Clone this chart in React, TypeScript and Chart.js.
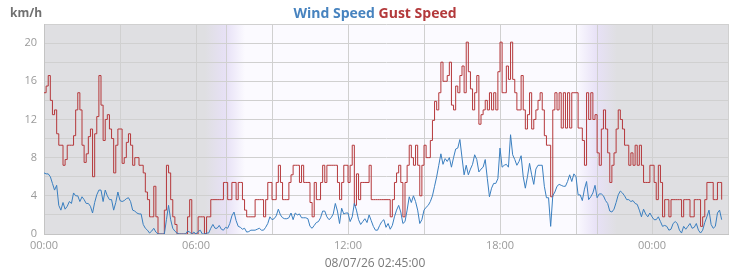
import React, { useEffect, useRef } from 'react';
import { Chart, registerables } from 'chart.js';

Chart.register(...registerables);

// ---- data (5-minute samples starting 00:00, ending 02:45 next day) ----
const intervalMinutes = 5;

const windSpeed = [
  6.4, 6.3, 6.3, 6.0, 5.3, 4.6, 5.1, 3.0, 2.5, 3.3,
  2.6, 2.9, 3.4, 3.2, 4.3, 4.0, 4.0, 3.4, 3.9, 3.6,
  3.2, 3.2, 2.9, 2.2, 3.3, 4.1, 4.6, 4.6, 3.4, 4.6,
  4.0, 3.6, 3.6, 2.5, 3.3, 4.4, 3.5, 3.4, 3.5, 3.7,
  3.8, 3.4, 2.5, 2.4, 2.2, 2.1, 2.1, 1.0, 0.6, 0.4,
  0.1, 0.3, 0.6, 0.2, 0, 0, 0, 0, 1.5, 3.0,
  1.5, 0.6, 0.3, 0.1, 0, 0, 0, 0, 0.3, 0.2,
  0, 0.2, 0, 0.25, 0.4, 0, 0, 0.1, 0.1, 0.6,
  1.0, 0.6, 0.6, 0.9, 0.5, 0.4, 0.7, 0.6, 1.1, 1.9,
  2.3, 1.4, 0.8, 0.7, 0.5, 0.6, 0.2, 0.25, 0.4, 0.4,
  0.4, 0.5, 0.6, 0.4, 0.4, 0.7, 1.1, 1.8, 1.5, 1.6,
  1.9, 2.6, 2.0, 1.7, 1.6, 1.6, 1.7, 2.2, 1.5, 2.2,
  2.0, 2.1, 1.7, 1.7, 1.7, 1.6, 0.8, 0.6, 0.9, 1.2,
  1.3, 1.7, 2.4, 2.4, 1.8, 1.5, 1.7, 2.1, 3.2, 2.4,
  1.1, 2.7, 2.1, 2.2, 2.2, 1.3, 1.8, 3.2, 2.5, 1.5,
  1.0, 1.3, 1.6, 1.2, 2.0, 1.4, 0.8, 0.4, 0.4, 0.9,
  1.3, 1.5, 0.7, 1.1, 0.5, 0.9, 1.8, 2.5, 3.0, 2.3,
  1.1, 1.3, 2.5, 3.9, 3.3, 4.0, 3.4, 2.5, 1.1, 1.5,
  2.5, 2.8, 3.0, 3.4, 4.0, 5.0, 6.0, 7.2, 8.4, 7.3,
  7.9, 7.6, 8.0, 7.0, 8.0, 8.9, 9.0, 9.9, 8.0, 6.2,
  7.2, 6.2, 6.8, 7.3, 8.3, 7.8, 6.5, 6.8, 7.0, 7.8,
  5.8, 3.9, 4.8, 5.3, 5.3, 5.8, 9.0, 7.0, 7.2, 7.3,
  7.0, 10.4, 8.3, 7.8, 7.2, 7.6, 8.2, 6.0, 4.8, 6.0,
  7.4, 6.2, 5.2, 6.8, 7.2, 7.2, 7.2, 5.0, 3.8, 3.8,
  0.8, 4.0, 4.4, 5.0, 5.2, 5.1, 5.0, 5.0, 5.5, 6.2,
  5.5, 6.3, 6.0, 4.1, 4.1, 3.5, 4.7, 5.5, 3.6, 3.9,
  4.3, 5.1, 3.8, 4.2, 4.2, 4.0, 3.5, 3.2, 2.4, 2.3,
  2.6, 3.3, 4.1, 4.5, 4.3, 4.0, 3.6, 3.6, 3.4, 3.5,
  3.2, 3.1, 2.5, 1.8, 2.6, 2.1, 1.8, 2.2, 1.8, 1.5,
  1.5, 1.8, 1.3, 0.8, 0.9, 0.8, 0.4, 0.5, 1.1, 1.3,
  1.1, 0.4, 0.1, 0.8, 0.5, 0.8, 1.1, 0.6, 0.7, 1.1,
  0.4, 0.1, 0.4, 1.2, 1.8, 2.5, 1.0, 0.6, 0.8, 2.2,
  2.5, 1.5,
];

const gustSpeed = [
  14.8, 15.5, 16.6, 14.0, 12.5, 13.0, 10.5, 9.3, 9.3, 7.2,
  7.8, 9.3, 9.3, 9.3, 10.3, 13.0, 14.8, 13.0, 9.3, 7.5,
  8.4, 10.2, 11.0, 6.0, 10.5, 12.3, 16.6, 13.5, 9.8, 12.0,
  12.5, 11.0, 10.0, 6.4, 9.3, 11.0, 11.0, 7.4, 8.0, 9.6,
  10.5, 9.3, 7.2, 8.0, 8.0, 7.2, 7.2, 6.4, 4.4, 3.6,
  1.8, 1.8, 5.0, 1.8, 0, 0, 0, 2.5, 7.2, 6.4,
  3.6, 1.8, 1.0, 0, 0, 0, 0, 0, 1.8, 3.6,
  0, 0, 0, 1.8, 1.8, 1.8, 0, 1.8, 1.8, 3.6,
  3.6, 3.6, 3.6, 3.6, 3.6, 5.4, 5.4, 3.6, 3.6, 5.4,
  5.4, 3.6, 5.4, 5.4, 3.6, 2.5, 1.8, 1.8, 1.8, 1.8,
  3.6, 3.6, 3.6, 3.6, 1.8, 3.6, 5.4, 5.4, 3.6, 3.6,
  5.4, 7.2, 5.4, 3.6, 3.6, 3.6, 5.4, 6.2, 7.2, 7.2,
  7.2, 5.4, 7.2, 5.4, 5.4, 5.4, 3.3, 1.8, 5.4, 3.6,
  3.6, 5.4, 7.2, 5.4, 7.2, 7.2, 7.2, 7.2, 7.2, 5.4,
  3.6, 5.4, 7.2, 7.2, 5.4, 7.2, 9.3, 3.0, 6.3, 3.6,
  5.4, 5.4, 5.4, 5.4, 7.2, 3.6, 3.6, 3.6, 3.6, 3.6,
  3.6, 3.6, 3.6, 3.6, 1.8, 3.6, 5.4, 6.4, 7.2, 5.4,
  1.8, 5.4, 7.2, 9.3, 8.0, 7.2, 9.3, 7.2, 4.0, 7.2,
  9.3, 8.0, 8.0, 9.8, 11.9, 13.9, 13.0, 14.8, 18.0, 16.0,
  16.0, 16.6, 18.0, 13.5, 13.0, 15.5, 14.8, 16.6, 17.6, 14.8,
  20.1, 17.0, 15.2, 13.0, 14.8, 16.6, 11.5, 12.5, 13.0, 14.0,
  13.0, 14.8, 13.0, 14.8, 13.0, 17.0, 20.1, 14.8, 14.8, 17.6,
  16.2, 20.1, 16.2, 14.8, 13.0, 13.0, 16.6, 13.0, 11.0, 12.5,
  14.8, 11.0, 12.0, 13.0, 14.0, 14.8, 13.0, 10.3, 9.3, 9.3,
  3.9, 13.0, 14.8, 13.0, 14.8, 11.1, 14.8, 11.1, 14.8, 11.1,
  14.8, 14.8, 14.8, 11.1, 11.1, 9.8, 7.2, 14.8, 12.0, 14.8,
  12.0, 12.5, 8.5, 7.2, 11.0, 13.0, 11.0, 8.5, 5.4, 7.2,
  8.5, 11.0, 13.0, 12.0, 11.0, 9.3, 9.3, 7.2, 8.5, 7.2,
  9.3, 7.2, 9.3, 7.2, 5.4, 5.4, 5.4, 7.2, 7.2, 5.4,
  3.6, 7.2, 5.4, 1.8, 3.6, 3.6, 1.8, 3.6, 3.6, 3.6,
  3.6, 3.6, 1.8, 3.6, 3.6, 3.6, 1.8, 1.8, 3.6, 3.6,
  3.6, 0.8, 1.8, 3.6, 5.4, 5.4, 5.4, 3.6, 3.6, 5.4,
  5.4, 3.6,
];

// x axis: minutes since 00:00 of the first day
const xTickLabels: Record<number, string> = {
  0: '00:00',
  360: '06:00',
  720: '12:00',
  1080: '18:00',
  1440: '00:00',
};
const yTickLabels = [0, 4, 8, 12, 16, 20];
const xMaxMinutes = 1620;
const yMax = 22;

// day / night shading (minutes)
const dawnStart = 381;
const sunrise = 431;
const dawnEnd = 476;
const duskStart = 1260;
const sunset = 1310;
const duskEnd = 1357;

const titleParts = ['Wind Speed', 'Gust Speed'];
const unitLabel = 'km/h';
const xAxisTitle = '08/07/26 02:45:00';

const WIND_COLOR = '#3a7fc0';
const GUST_COLOR = '#b5383b';
const TITLE_WIND = '#4783bf';
const TITLE_GUST = '#b3393b';
const NIGHT = '#dfdfe2';
const TWILIGHT = '#e7e1f6';
const DAY = '#fbfaff';
const GRID = '#d0d0d0';
const FONT = '"Open Sans", "DejaVu Sans", sans-serif';

const bgPlugin = {
  id: 'dayNightBg',
  beforeDraw(chart: any) {
    const { ctx, chartArea: a, scales } = chart;
    const x = scales.x;
    const w = a.right - a.left;
    const f = (m: number) => Math.min(1, Math.max(0, (x.getPixelForValue(m) - a.left) / w));
    const g = ctx.createLinearGradient(a.left, 0, a.right, 0);
    g.addColorStop(0, NIGHT);
    g.addColorStop(f(dawnStart), NIGHT);
    g.addColorStop(f(sunrise), TWILIGHT);
    g.addColorStop(f(dawnEnd), DAY);
    g.addColorStop(f(duskStart), DAY);
    g.addColorStop(f(sunset), TWILIGHT);
    g.addColorStop(f(duskEnd), NIGHT);
    g.addColorStop(1, NIGHT);
    ctx.save();
    ctx.fillStyle = g;
    ctx.fillRect(a.left, a.top, w, a.bottom - a.top);
    ctx.restore();
  },
  beforeDatasetsDraw(chart: any) {
    const { ctx, chartArea: a, scales } = chart;
    ctx.save();
    ctx.strokeStyle = GRID;
    ctx.lineWidth = 1;
    [sunrise, sunset].forEach((m) => {
      const px = Math.round(scales.x.getPixelForValue(m)) + 0.5;
      ctx.beginPath();
      ctx.moveTo(px, a.top);
      ctx.lineTo(px, a.bottom);
      ctx.stroke();
    });
    ctx.restore();
  },
};

const textPlugin = {
  id: 'texts',
  afterDraw(chart: any) {
    const ctx = chart.ctx;
    ctx.save();
    ctx.textBaseline = 'alphabetic';
    ctx.font = `bold 14px ${FONT}`;
    const sep = ' ';
    const w1 = ctx.measureText(titleParts[0] + sep).width;
    const w2 = ctx.measureText(titleParts[1]).width;
    const start = chart.width / 2 - (w1 + w2) / 2;
    ctx.textAlign = 'left';
    ctx.fillStyle = TITLE_WIND;
    ctx.fillText(titleParts[0], start, 18);
    ctx.fillStyle = TITLE_GUST;
    ctx.fillText(titleParts[1], start + w1, 18);

    ctx.font = `bold 12px ${FONT}`;
    ctx.fillStyle = '#707070';
    ctx.fillText(unitLabel, 10, 17);

    ctx.font = `12px ${FONT}`;
    ctx.fillStyle = '#7a7a7a';
    ctx.textAlign = 'center';
    ctx.fillText(xAxisTitle, chart.width / 2, 267);
    ctx.restore();
  },
};

export default function App() {
  const canvasRef = useRef<HTMLCanvasElement | null>(null);

  useEffect(() => {
    document.body.style.margin = '0';
    const canvas = canvasRef.current;
    if (!canvas) return;
    const windPts = windSpeed.map((v, i) => ({ x: i * intervalMinutes, y: v }));
    const gustPts = gustSpeed.map((v, i) => ({ x: i * intervalMinutes, y: v }));

    const chart = new Chart(canvas, {
      type: 'line',
      data: {
        datasets: [
          {
            label: titleParts[0],
            data: windPts,
            borderColor: WIND_COLOR,
            borderWidth: 1,
            pointRadius: 0,
            tension: 0,
            fill: false,
          },
          {
            label: titleParts[1],
            data: gustPts,
            borderColor: GUST_COLOR,
            borderWidth: 1,
            pointRadius: 0,
            stepped: 'before',
            fill: false,
          },
        ],
      },
      options: {
        animation: false,
        responsive: false,
        maintainAspectRatio: false,
        devicePixelRatio: 1,
        layout: { padding: { left: 0, right: 22, top: 24, bottom: 0 } },
        plugins: {
          legend: { display: false },
          tooltip: { enabled: false },
          title: { display: false },
        },
        scales: {
          x: {
            type: 'linear',
            min: 0,
            max: xMaxMinutes,
            ticks: {
              stepSize: 180,
              autoSkip: false,
              maxRotation: 0,
              minRotation: 0,
              padding: 5,
              color: '#9a9a9a',
              font: { family: FONT, size: 11 },
              callback: (v: any) => xTickLabels[Number(v)] ?? '',
            },
            grid: { color: GRID, drawTicks: false, lineWidth: 1 },
            border: { color: '#c4c4c4' },
            afterFit: (s: any) => {
              s.height = 36;
            },
          },
          y: {
            min: 0,
            max: yMax,
            ticks: {
              stepSize: 2,
              padding: 7,
              color: '#9a9a9a',
              font: { family: FONT, size: 11 },
              callback: (v: any) => (yTickLabels.includes(Number(v)) ? String(v) : ''),
            },
            grid: { color: GRID, drawTicks: false, lineWidth: 1 },
            border: { color: '#c4c4c4' },
            afterFit: (s: any) => {
              s.width = 44;
            },
          },
        },
      },
      plugins: [bgPlugin, textPlugin],
    } as any);

    return () => chart.destroy();
  }, []);

  return (
    <div style={{ width: 750, height: 270, position: 'relative' }}>
      <canvas ref={canvasRef} width={750} height={270} style={{ width: 750, height: 270, display: 'block' }} />
    </div>
  );
}
